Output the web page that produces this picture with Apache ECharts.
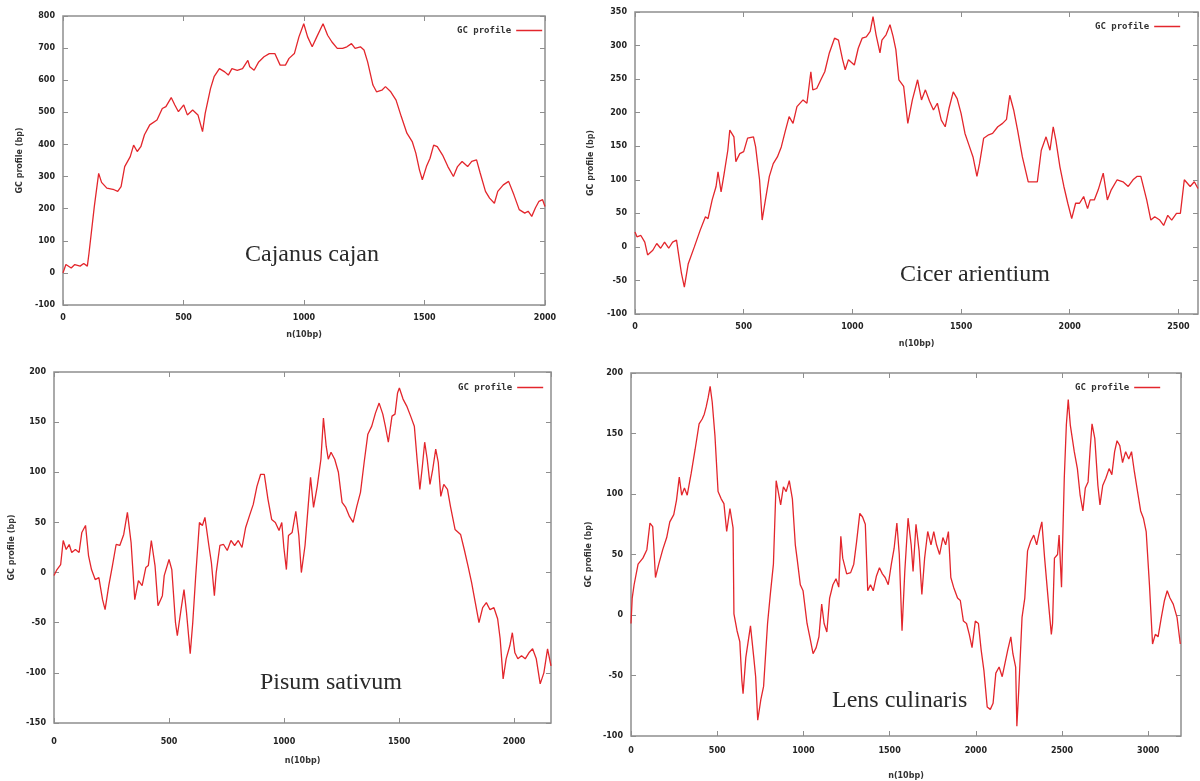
<!DOCTYPE html>
<html><head><meta charset="utf-8">
<script src="https://cdn.jsdelivr.net/npm/echarts@6/dist/echarts.min.js"></script>
<style>html,body{margin:0;background:#fff}#c{width:1200px;height:781px}</style>
</head><body><div id="c"></div>
<script>
// ---- data (x in units of 10bp, y = GC profile in bp) ----
const cajanusPoints = [[0,0],[12,26],[34,15],[49,26],[71,21],[86,29],[101,21],[108,62],[130,207],[148,310],[160,282],[182,264],[212,259],[227,254],[241,269],[256,331],[279,362],[293,398],[308,378],[323,393],[338,430],[360,461],[390,476],[412,512],[427,518],[449,546],[464,523],[479,502],[501,523],[516,492],[538,507],[560,492],[579,440],[590,497],[612,574],[627,611],[649,636],[671,626],[686,616],[701,636],[723,631],[745,636],[767,662],[775,642],[793,631],[812,657],[834,673],[856,683],[879,683],[901,647],[923,647],[938,668],[960,683],[979,735],[999,776],[1015,735],[1034,704],[1053,735],[1079,776],[1098,740],[1116,719],[1138,699],[1160,699],[1178,704],[1197,714],[1212,699],[1234,704],[1249,694],[1264,657],[1286,585],[1301,564],[1323,569],[1338,580],[1360,564],[1382,538],[1404,486],[1427,435],[1449,409],[1464,373],[1479,321],[1491,290],[1508,331],[1523,357],[1538,398],[1553,393],[1575,367],[1597,331],[1620,300],[1637,331],[1656,347],[1679,331],[1696,347],[1716,352],[1731,311],[1753,254],[1770,233],[1790,217],[1804,254],[1827,274],[1849,285],[1871,243],[1893,197],[1916,186],[1930,192],[1945,176],[1960,202],[1975,223],[1990,228],[2000,207]];

const cicerPoints = [[0,22],[9,15],[27,17],[45,7],[58,-12],[82,-5],[100,5],[118,-2],[136,7],[155,-2],[173,7],[191,10],[200,-10],[214,-40],[227,-60],[245,-25],[273,0],[300,25],[324,45],[336,42],[355,70],[373,90],[382,112],[396,82],[409,107],[427,144],[436,174],[455,164],[464,127],[482,139],[500,142],[518,162],[545,164],[555,149],[573,100],[585,40],[600,70],[618,105],[636,124],[655,134],[673,149],[691,172],[709,194],[727,184],[745,209],[773,219],[791,214],[809,261],[818,234],[836,236],[855,249],[873,261],[894,289],[918,311],[936,308],[955,279],[967,264],[982,279],[1009,271],[1027,296],[1045,311],[1064,313],[1082,321],[1095,343],[1109,316],[1127,289],[1136,308],[1155,316],[1173,331],[1187,314],[1200,294],[1214,249],[1236,239],[1255,184],[1276,219],[1300,249],[1318,219],[1336,234],[1355,217],[1373,204],[1391,214],[1409,189],[1427,179],[1445,207],[1464,231],[1482,221],[1500,199],[1518,169],[1536,152],[1555,134],[1573,105],[1585,124],[1604,162],[1627,167],[1645,169],[1669,179],[1691,184],[1709,190],[1724,226],[1742,204],[1760,174],[1782,134],[1809,97],[1827,97],[1851,97],[1869,144],[1891,164],[1909,144],[1924,179],[1936,159],[1955,119],[1973,90],[1991,65],[2009,42],[2027,65],[2045,65],[2064,75],[2082,57],[2094,70],[2113,70],[2131,85],[2154,110],[2173,70],[2191,85],[2218,100],[2245,97],[2269,90],[2291,100],[2309,105],[2327,105],[2354,70],[2373,40],[2391,45],[2414,40],[2432,32],[2451,47],[2469,40],[2491,50],[2509,50],[2527,100],[2554,90],[2573,97],[2590,87]];

const pisumPoints = [[0,-3],[13,3],[29,8],[40,32],[53,23],[66,28],[77,20],[93,23],[109,20],[121,40],[137,47],[150,17],[163,3],[179,-7],[195,-5],[211,-27],[222,-37],[238,-13],[254,7],[270,28],[286,27],[303,38],[319,60],[335,30],[351,-27],[367,-8],[383,-13],[399,5],[410,7],[423,32],[439,7],[452,-33],[471,-23],[479,-3],[500,13],[512,3],[528,-50],[536,-63],[552,-37],[565,-17],[576,-40],[592,-81],[603,-50],[616,-3],[632,50],[645,47],[656,55],[673,27],[684,10],[697,-23],[705,0],[721,27],[737,28],[753,22],[769,32],[785,27],[801,32],[817,25],[833,45],[850,57],[866,68],[882,86],[898,98],[914,98],[930,73],[946,53],[962,50],[978,42],[990,50],[999,25],[1010,3],[1019,37],[1035,40],[1051,61],[1064,37],[1075,0],[1091,27],[1107,73],[1115,95],[1128,65],[1144,86],[1160,113],[1171,154],[1183,126],[1192,113],[1204,120],[1220,113],[1236,100],[1252,70],[1268,65],[1284,56],[1300,50],[1316,66],[1332,80],[1348,110],[1364,138],[1381,146],[1397,159],[1413,169],[1429,158],[1440,146],[1453,130],[1469,156],[1482,158],[1493,179],[1501,184],[1517,173],[1533,166],[1550,156],[1566,146],[1578,113],[1590,83],[1601,106],[1611,130],[1622,113],[1634,88],[1646,103],[1659,123],[1670,110],[1681,76],[1694,88],[1710,83],[1723,66],[1743,43],[1767,38],[1783,23],[1799,7],[1815,-10],[1831,-30],[1847,-50],[1863,-35],[1879,-30],[1895,-37],[1912,-35],[1928,-46],[1939,-66],[1952,-106],[1965,-86],[1981,-73],[1992,-60],[2003,-80],[2016,-86],[2032,-83],[2048,-86],[2064,-80],[2080,-76],[2096,-86],[2113,-111],[2129,-100],[2145,-76],[2160,-93]];

const lensPoints = [[0,-7],[7,14],[18,25],[41,42],[69,47],[92,54],[110,76],[126,73],[142,31],[161,42],[184,54],[207,64],[225,77],[248,83],[264,95],[280,114],[294,99],[310,105],[326,99],[349,117],[372,137],[395,158],[413,162],[425,166],[436,172],[448,180],[459,189],[471,176],[487,148],[505,102],[523,96],[539,92],[555,69],[574,88],[592,72],[597,1],[615,-13],[631,-22],[643,-54],[650,-65],[666,-35],[693,-9],[712,-35],[723,-51],[735,-87],[753,-70],[769,-59],[792,-7],[808,17],[826,42],[842,111],[854,102],[868,91],[884,106],[900,102],[918,111],[936,96],[953,58],[964,46],[982,25],[998,20],[1021,-7],[1037,-18],[1056,-32],[1074,-27],[1090,-18],[1106,9],[1120,-7],[1136,-14],[1152,14],[1171,25],[1189,30],[1205,23],[1217,65],[1228,47],[1239,47],[1251,34],[1274,35],[1292,42],[1308,60],[1327,84],[1343,81],[1359,75],[1373,20],[1389,25],[1405,20],[1423,32],[1441,39],[1458,34],[1474,31],[1492,25],[1510,42],[1526,55],[1542,76],[1556,50],[1572,-13],[1588,36],[1607,80],[1625,58],[1636,36],[1653,75],[1671,53],[1687,17],[1703,47],[1721,69],[1740,58],[1756,69],[1772,58],[1790,50],[1809,64],[1825,58],[1841,69],[1855,31],[1871,23],[1894,14],[1910,12],[1928,-5],[1946,-7],[1962,-16],[1978,-27],[1997,-5],[2015,-7],[2031,-29],[2047,-46],[2066,-76],[2084,-78],[2100,-73],[2116,-48],[2135,-43],[2153,-51],[2169,-40],[2185,-29],[2203,-18],[2215,-32],[2231,-43],[2238,-92],[2249,-62],[2268,-2],[2284,14],[2300,53],[2318,61],[2336,66],[2353,58],[2369,69],[2383,77],[2399,47],[2422,9],[2438,-16],[2445,-7],[2456,47],[2474,50],[2483,66],[2497,23],[2513,113],[2525,157],[2536,178],[2548,157],[2571,135],[2589,121],[2605,99],[2621,86],[2635,105],[2651,110],[2663,137],[2674,158],[2690,146],[2708,107],[2720,91],[2736,107],[2754,113],[2773,121],[2789,116],[2805,135],[2819,144],[2835,140],[2851,126],[2869,135],[2887,129],[2903,135],[2920,118],[2938,102],[2956,86],[2972,80],[2988,69],[3007,25],[3025,-24],[3041,-16],[3057,-18],[3076,-2],[3094,12],[3110,20],[3126,14],[3145,9],[3167,-2],[3186,-24]];

const speciesNames = ['Cajanus cajan', 'Cicer arientium', 'Pisum sativum', 'Lens culinaris'];
const seriesName = 'GC profile';
const xAxisTitle = 'n(10bp)';
const yAxisTitle = 'GC profile (bp)';
const xRanges = [[0, 2000, 500], [0, 2590, 500], [0, 2160, 500], [0, 3190, 500]];
const yRanges = [[-100, 800, 100], [-100, 350, 50], [-150, 200, 50], [-100, 200, 50]];

// ---- layout / style ----
const allPoints = [cajanusPoints, cicerPoints, pisumPoints, lensPoints];
const grids = [
  {left: 63, top: 16, width: 482, height: 289},
  {left: 635, top: 12, width: 563, height: 302},
  {left: 54, top: 372, width: 497, height: 351},
  {left: 631, top: 373, width: 550, height: 365}
];
const xLabelMargin = [9, 9, 15, 11];
const xNameGap = [26, 26, 34, 36];
const yNameGap = [39, 40, 38, 38];
const captionPos = [[245, 257], [900, 277], [260, 685], [832, 703]];
const legendPos = [[452, 21], [1090, 17], [453, 378], [1070, 378]];

const frameColor = '#8e8e8e';
const labelStyle = {color: '#222', fontSize: 8, fontWeight: 'bold', fontFamily: 'DejaVu Sans'};
const red = '#e3262c';
const plainNumber = v => String(v);

const xAxes = [], yAxes = [], series = [], legends = [], graphics = [];
for (let i = 0; i < 4; i++) {
  const [xmin, xmax, xint] = xRanges[i];
  const [ymin, ymax, yint] = yRanges[i];
  xAxes.push({
    type: 'value', gridIndex: i, position: 'bottom', min: xmin, max: xmax, interval: xint,
    name: xAxisTitle, nameLocation: 'middle', nameGap: xNameGap[i],
    nameTextStyle: {color: '#333', fontSize: 8, fontWeight: 'bold', fontFamily: 'DejaVu Sans'},
    axisLine: {show: false, onZero: false}, splitLine: {show: false},
    axisTick: {inside: true, length: 5, lineStyle: {color: frameColor}},
    axisLabel: Object.assign({margin: xLabelMargin[i], showMaxLabel: xmax % xint === 0, formatter: plainNumber}, labelStyle)
  });
  yAxes.push({
    type: 'value', gridIndex: i, position: 'left', min: ymin, max: ymax, interval: yint,
    name: yAxisTitle, nameLocation: 'middle', nameGap: yNameGap[i], nameRotate: 90,
    nameTextStyle: {color: '#333', fontSize: 8, fontWeight: 'bold', fontFamily: 'DejaVu Sans'},
    axisLine: {show: false, onZero: false}, splitLine: {show: false},
    axisTick: {inside: true, length: 5, lineStyle: {color: frameColor}},
    axisLabel: Object.assign({margin: 8, formatter: plainNumber}, labelStyle)
  });
  series.push({
    name: seriesName, type: 'line', xAxisIndex: i, yAxisIndex: i,
    data: allPoints[i], showSymbol: false, animation: false,
    lineStyle: {color: red, width: 1.3}, itemStyle: {color: red}
  });
  legends.push({
    data: [seriesName], left: legendPos[i][0], top: legendPos[i][1], align: 'right',
    icon: 'rect', itemWidth: 26, itemHeight: 1.5, itemGap: 4,
    textStyle: {color: '#333', fontSize: 9, fontWeight: 'bold', fontFamily: 'DejaVu Sans Mono', padding: [0, 0, 0, 0]}
  });
  graphics.push({
    type: 'text', left: captionPos[i][0], top: captionPos[i][1] - 14,
    style: {text: speciesNames[i], fill: '#2a2a2a', font: '24px "Liberation Serif"'}
  });
}
// mirrored ticks on top and right edges (gnuplot style)
for (let i = 0; i < 4; i++) {
  const [xmin, xmax, xint] = xRanges[i];
  const [ymin, ymax, yint] = yRanges[i];
  xAxes.push({type: 'value', gridIndex: i, position: 'top', min: xmin, max: xmax, interval: xint,
    axisLine: {show: false, onZero: false}, splitLine: {show: false}, axisLabel: {show: false},
    axisTick: {inside: true, length: 5, lineStyle: {color: frameColor}}});
  yAxes.push({type: 'value', gridIndex: i, position: 'right', min: ymin, max: ymax, interval: yint,
    axisLine: {show: false, onZero: false}, splitLine: {show: false}, axisLabel: {show: false},
    axisTick: {inside: true, length: 5, lineStyle: {color: frameColor}}});
}

const chart = echarts.init(document.getElementById('c'));
chart.setOption({
  backgroundColor: '#fff',
  animation: false,
  grid: grids.map(g => Object.assign({show: true, borderColor: frameColor, borderWidth: 1.5, backgroundColor: '#fff', containLabel: false}, g)),
  xAxis: xAxes,
  yAxis: yAxes,
  legend: legends,
  series: series,
  graphic: graphics
});
</script>
</body></html>
